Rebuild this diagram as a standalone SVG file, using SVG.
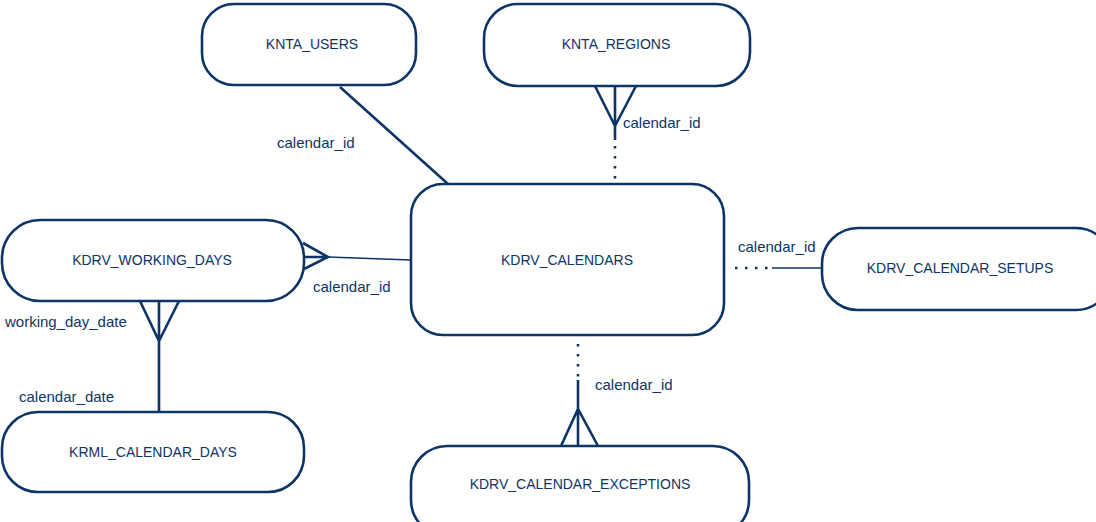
<svg xmlns="http://www.w3.org/2000/svg" width="1096" height="522" viewBox="0 0 1096 522">
<style>
.node rect{fill:#ffffff;stroke:#0d3466;stroke-width:2.6}
.node text{font-family:"Liberation Sans",Arial,sans-serif;font-size:14px;fill:#0d3466;text-anchor:middle}
.ln{stroke:#0d3466;stroke-width:2.6;fill:none}
.thin{stroke:#0d3466;stroke-width:1.6;fill:none}
.dot{stroke:#0d3466;stroke-width:2.6;fill:none;stroke-dasharray:2.5 7.5}
.lbl{font-family:"Liberation Sans",Arial,sans-serif;font-size:15px;fill:#0d3466}
</style>
<rect width="1096" height="522" fill="#ffffff"/>
<g id="KNTA_USERS" class="node"><rect x="202" y="4" width="214" height="81" rx="32"/><text x="312" y="49">KNTA_USERS</text></g>
<g id="KNTA_REGIONS" class="node"><rect x="484" y="4" width="266" height="82" rx="34"/><text x="616" y="49">KNTA_REGIONS</text></g>
<g id="KDRV_CALENDARS" class="node"><rect x="411" y="184" width="313" height="151" rx="32"/><text x="567" y="265">KDRV_CALENDARS</text></g>
<g id="KDRV_WORKING_DAYS" class="node"><rect x="2" y="220" width="302" height="81" rx="38"/><text x="152" y="265">KDRV_WORKING_DAYS</text></g>
<g id="KDRV_CALENDAR_SETUPS" class="node"><rect x="822" y="228" width="290" height="82" rx="36"/><text x="960" y="273">KDRV_CALENDAR_SETUPS</text></g>
<g id="KRML_CALENDAR_DAYS" class="node"><rect x="2" y="412" width="302" height="80" rx="36"/><text x="153" y="457">KRML_CALENDAR_DAYS</text></g>
<g id="KDRV_CALENDAR_EXCEPTIONS" class="node"><rect x="411" y="446" width="338" height="90" rx="36"/><text x="580" y="489">KDRV_CALENDAR_EXCEPTIONS</text></g>
<g id="connectors">
<line class="ln" x1="340" y1="87" x2="448" y2="184"/>
<text class="lbl" x="277" y="148">calendar_id</text>
<path class="ln" d="M595,86 L615,126 L636,86 M615,86 L615,140"/>
<line class="dot" x1="615" y1="146" x2="615" y2="180"/>
<text class="lbl" x="623" y="128">calendar_id</text>
<path class="ln" d="M303,243 L328,257 L304,269 M303,257 L328,257"/>
<line class="thin" x1="328" y1="257" x2="411" y2="260"/>
<text class="lbl" x="313" y="292">calendar_id</text>
<line class="dot" x1="735" y1="268" x2="772" y2="268"/>
<line class="thin" x1="772" y1="268" x2="822" y2="268"/>
<text class="lbl" x="738" y="252">calendar_id</text>
<line class="dot" x1="578" y1="344" x2="578" y2="378"/>
<path class="ln" d="M578,380 L578,446 M561,446 L578,409 L598,446"/>
<text class="lbl" x="595" y="390">calendar_id</text>
<path class="ln" d="M140,301 L159,341 L179,301 M159,301 L159,412"/>
<text class="lbl" x="5" y="327">working_day_date</text>
<text class="lbl" x="19" y="402">calendar_date</text>
</g>
</svg>
